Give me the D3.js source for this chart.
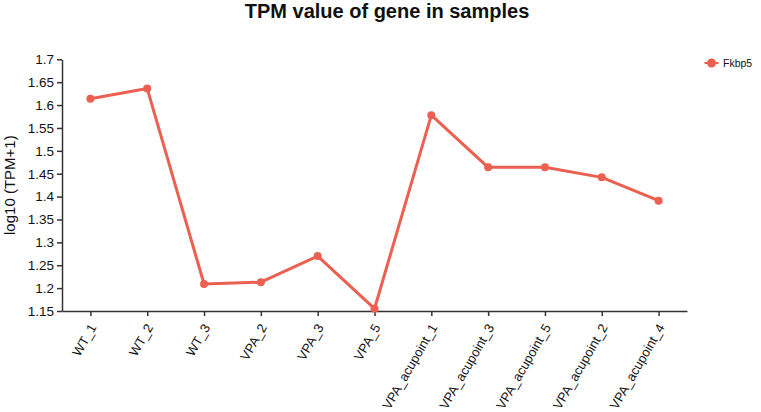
<!DOCTYPE html>
<html>
<head>
<meta charset="utf-8">
<script src="https://cdn.jsdelivr.net/npm/d3@7"></script>
<style>
body { margin: 0; background: #fff; }
text { font-family: "Liberation Sans", Arial, sans-serif; }
</style>
</head>
<body>
<svg id="chart" width="761" height="412"></svg>
<script>
const categories = ["WT_1","WT_2","WT_3","VPA_2","VPA_3","VPA_5","VPA_acupoint_1","VPA_acupoint_3","VPA_acupoint_5","VPA_acupoint_2","VPA_acupoint_4"];
const seriesName = "Fkbp5";
const values = [1.614, 1.636, 1.209, 1.213, 1.270, 1.155, 1.578, 1.464, 1.464, 1.442, 1.391];
const yTicks = [1.15,1.2,1.25,1.3,1.35,1.4,1.45,1.5,1.55,1.6,1.65,1.7];
const title = "TPM value of gene in samples";
const yLabel = "log10 (TPM+1)";
const color = "#eb6050";

(function () {
const svg = d3.select("#chart");
const mLeft = 62, mRight = 687, mTop = 59.3, mBottom = 311;

const x = d3.scalePoint().domain(categories).range([mLeft, mRight]).padding(0.5);
const y = d3.scaleLinear().domain([1.15, 1.7]).range([mBottom, mTop]);

svg.append("text").attr("x", 387).attr("y", 18).attr("text-anchor", "middle")
  .attr("font-size", 20).attr("font-weight", "bold").attr("fill", "#111").text(title);

const gx = svg.append("g").attr("transform", `translate(0,${mBottom})`)
  .call(d3.axisBottom(x).tickSize(5).tickSizeOuter(0));
gx.select(".domain").attr("stroke", "#333").attr("stroke-width", 1.5);
gx.selectAll(".tick line").attr("stroke", "#333").attr("stroke-width", 1.5);
gx.selectAll(".tick text")
  .attr("font-size", 13).attr("fill", "#111")
  .attr("text-anchor", "end")
  .attr("x", 0).attr("y", 0).attr("dx", 0).attr("dy", "0.35em")
  .attr("transform", "translate(2,14) rotate(-60)");

const gy = svg.append("g").attr("transform", `translate(${mLeft},0)`)
  .call(d3.axisLeft(y).tickValues(yTicks).tickFormat(d => String(+d.toFixed(2))).tickSize(5).tickSizeOuter(0));
gy.select(".domain").attr("stroke", "#333").attr("stroke-width", 1.5);
gy.selectAll(".tick line").attr("stroke", "#333").attr("stroke-width", 1.5);
gy.selectAll(".tick text").attr("font-size", 13.5).attr("fill", "#111").attr("x", -8);

svg.append("text").attr("transform", `translate(15,${(mTop+mBottom)/2}) rotate(-90)`)
  .attr("text-anchor", "middle").attr("font-size", 15).attr("fill", "#111").text(yLabel);

const line = d3.line().x((d,i) => x(categories[i])).y(d => y(d));
svg.append("path").datum(values).attr("d", line).attr("fill", "none")
  .attr("stroke", color).attr("stroke-width", 3).attr("stroke-linejoin", "round");
svg.append("g").selectAll("circle").data(values).join("circle")
  .attr("cx", (d,i) => x(categories[i])).attr("cy", d => y(d)).attr("r", 4).attr("fill", color);

const lg = svg.append("g").attr("transform", "translate(711.5,63)");
lg.append("line").attr("x1", -7).attr("x2", 7).attr("stroke", color).attr("stroke-width", 2);
lg.append("circle").attr("r", 4.5).attr("fill", color);
lg.append("text").attr("x", 11.5).attr("y", 3.8).attr("font-size", 10.5).attr("fill", "#111").text(seriesName);
})();
</script>
</body>
</html>
